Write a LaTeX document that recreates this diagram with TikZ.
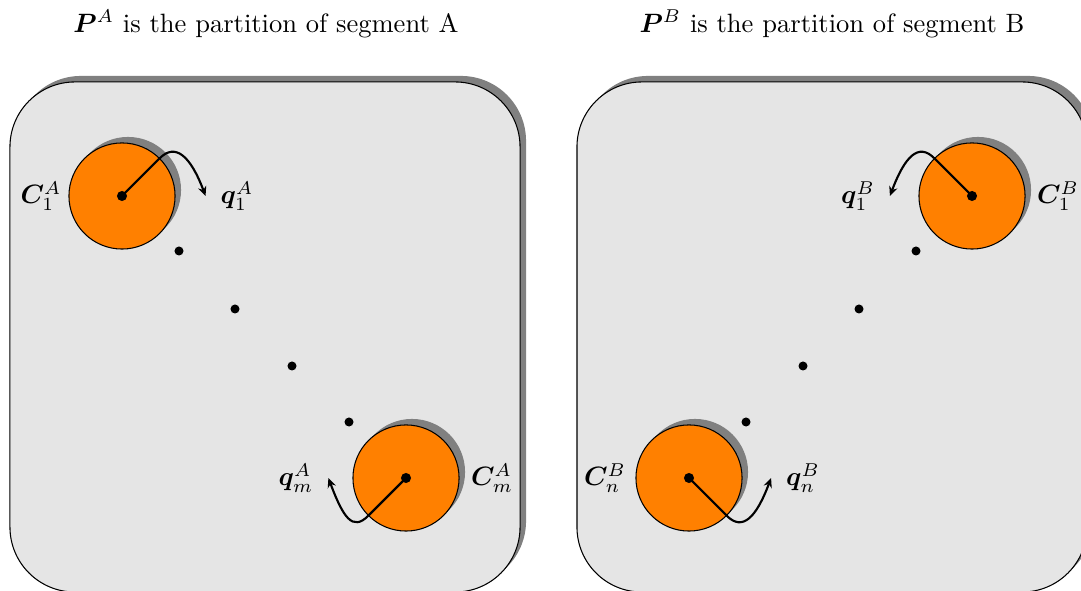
\documentclass[tikz,border=0pt]{standalone}
\usepackage{amsmath,amssymb,bm}
\usetikzlibrary{shadows,arrows.meta}
\tikzset{
  seg/.style={rectangle, draw=black, fill=gray!20, rounded corners=24.5pt,
    minimum width=192.3pt, minimum height=192.3pt, inner sep=0pt,
    general shadow={fill=gray, shadow xshift=2.26pt, shadow yshift=2.26pt}},
  cluster/.style={circle, draw=black, fill=orange, minimum size=40pt, inner sep=0pt,
    general shadow={fill=gray, shadow xshift=2.26pt, shadow yshift=2.26pt}},
  cdot/.style={circle, fill=black, minimum size=3.8pt, inner sep=0pt},
  edot/.style={circle, fill=black, minimum size=3.4pt, inner sep=0pt},
  lab/.style={inner sep=2.5pt},
  qlab/.style={inner sep=5.5pt},
  arrowline/.style={thick, -{Stealth[length=3.6pt, width=3.2pt, inset=1.2pt]}}
}
\begin{document}
\begin{tikzpicture}[x=0.377pt, y=0.377pt]
\useasboundingbox (0,0) rectangle (1081,591);
\clip (0,0) rectangle (1081,591);
% titles
\node (ta) at (266,567) {$\boldsymbol{P}^A$ is the partition of segment A};
\node (tb) at (832,567) {$\boldsymbol{P}^B$ is the partition of segment B};
% segments
\node[seg] (sa) at (265,254) {};
\node[seg] (sb) at (832,254) {};
% clusters A
\node[cluster] (c1a) at (122,395) {};
\node[cluster] (cma) at (406,113) {};
\node[lab] (lc1a) at (41,395) {$\boldsymbol{C}_1^A$};
\node[lab] (lcma) at (492,113) {$\boldsymbol{C}_m^A$};
\node[qlab] (q1a) at (237,395) {$\boldsymbol{q}_1^A$};
\node[qlab] (qma) at (296,113) {$\boldsymbol{q}_m^A$};
% clusters B
\node[cluster] (c1b) at (972,395) {};
\node[cluster] (cnb) at (689,113) {};
\node[lab] (lc1b) at (1058,395) {$\boldsymbol{C}_1^B$};
\node[lab] (lcnb) at (605,113) {$\boldsymbol{C}_n^B$};
\node[qlab] (q1b) at (858,395) {$\boldsymbol{q}_1^B$};
\node[qlab] (qnb) at (803,113) {$\boldsymbol{q}_n^B$};
% ellipsis dots
\node[edot] (ea1) at (179,340) {};
\node[edot] (ea2) at (235,282) {};
\node[edot] (ea3) at (292,225) {};
\node[edot] (ea4) at (349,169) {};
\node[edot] (eb1) at (916,340) {};
\node[edot] (eb2) at (859,282) {};
\node[edot] (eb3) at (803,225) {};
\node[edot] (eb4) at (746,169) {};
% arrows
\draw[arrowline] (c1a.center) -- (c1a.45) .. controls +(15.5,15.5) and +(-15,40) .. (q1a.west);
\draw[arrowline] (cma.center) -- (cma.225) .. controls +(-15.5,-15.5) and +(15,-40) .. (qma.east);
\draw[arrowline] (c1b.center) -- (c1b.135) .. controls +(-15.5,15.5) and +(15,40) .. (q1b.east);
\draw[arrowline] (cnb.center) -- (cnb.315) .. controls +(15.5,-15.5) and +(-15,-40) .. (qnb.west);
% centre dots
\node[cdot] (d1a) at (c1a.center) {};
\node[cdot] (dma) at (cma.center) {};
\node[cdot] (d1b) at (c1b.center) {};
\node[cdot] (dnb) at (cnb.center) {};
\end{tikzpicture}
\end{document}
